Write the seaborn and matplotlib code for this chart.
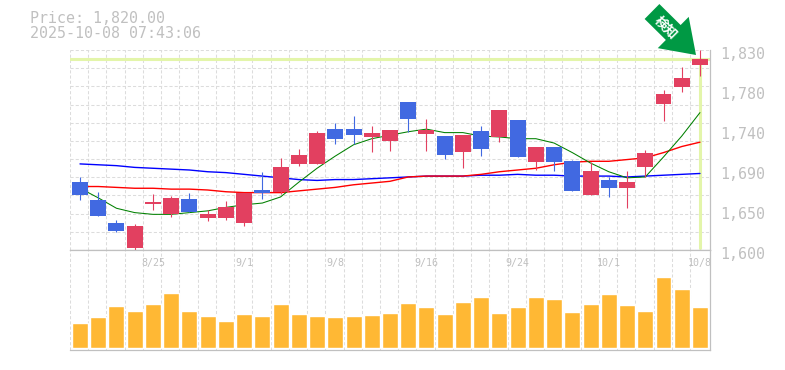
import matplotlib
matplotlib.use("Agg")
import matplotlib.pyplot as plt
from matplotlib.patches import FancyArrow
import seaborn as sns
import pandas as pd

# --- data ---
OPEN = [1678, 1658, 1631, 1602, 1653, 1641, 1659, 1637, 1637, 1631, 1669, 1667, 1699, 1699, 1739, 1739, 1730, 1725,
        1770, 1733, 1731, 1713, 1737, 1730, 1750, 1701, 1718, 1702, 1663, 1680, 1671, 1695, 1768, 1787, 1813]
HIGH = [1684, 1667, 1635, 1630, 1664, 1662, 1666, 1646, 1656, 1666, 1690, 1706, 1716, 1737, 1746, 1754, 1743, 1738,
        1770, 1751, 1731, 1732, 1743, 1761, 1750, 1718, 1718, 1704, 1701, 1684, 1691, 1715, 1784, 1810, 1830]
LOW = [1658, 1639, 1621, 1599, 1646, 1638, 1644, 1633, 1635, 1628, 1659, 1664, 1697, 1699, 1722, 1722, 1713, 1714,
       1736, 1714, 1705, 1694, 1708, 1724, 1707, 1692, 1691, 1668, 1663, 1661, 1648, 1684, 1748, 1782, 1800]
CLOSE = [1663, 1639, 1622, 1628, 1655, 1660, 1644, 1641, 1649, 1666, 1666, 1695, 1709, 1735, 1728, 1732, 1735, 1738,
         1751, 1738, 1709, 1732, 1716, 1761, 1707, 1718, 1701, 1668, 1691, 1671, 1678, 1712, 1779, 1798, 1820]
MA_SHORT = [1671, 1660, 1648, 1643, 1641, 1641, 1643, 1645, 1649, 1652, 1654, 1661, 1678, 1694, 1708, 1721, 1728, 1732,
            1736, 1739, 1735, 1735, 1731, 1730, 1728, 1728, 1723, 1712, 1700, 1690, 1683, 1684, 1707, 1731, 1758]
MA_MID = [1673, 1673, 1672, 1671, 1671, 1670, 1670, 1669, 1667, 1666, 1666, 1666, 1668, 1670, 1672, 1675, 1677, 1679,
          1684, 1685, 1685, 1685, 1687, 1690, 1692, 1694, 1698, 1701, 1702, 1702, 1704, 1706, 1712, 1719, 1724]
MA_LONG = [1699, 1698, 1697, 1695, 1694, 1693, 1692, 1690, 1689, 1687, 1685, 1683, 1681, 1680, 1681, 1681, 1682, 1683,
           1684, 1685, 1685, 1685, 1686, 1686, 1687, 1686, 1686, 1685, 1685, 1685, 1684, 1685, 1686, 1687, 1688]
VOLUME = [25, 31, 42, 37, 44, 55, 37, 32, 27, 34, 32, 44, 34, 32, 31, 32, 33, 35,
          45, 41, 34, 46, 51, 35, 41, 51, 49, 36, 44, 54, 43, 37, 71, 59, 41]
DATE_LABELS = ["8/25", "9/1", "9/8", "9/16", "9/24", "10/1", "10/8"]
DATE_POS = [4, 9, 14, 19, 24, 29, 34]
PRICE_TICKS = [1600, 1646, 1692, 1738, 1784, 1830]
PRICE_LABELS = ["1,600", "1,650", "1,690", "1,740", "1,780", "1,830"]

# --- style ---
UP = "#e24060"
DOWN = "#4169e1"
GRID = "#dcdcdc"
FRAME = "#c0c0c0"
TEXT = "#c0c0c0"
MARK = "#e3f5aa"
ARROW = "#009944"
W, H = 785, 370
X_LEFT = -0.548
X_RIGHT = 34.55
BAR_W = 0.877

sns.set_style("white")
plt.rcParams['font.family'] = ['DejaVu Sans Mono', 'Noto Sans CJK JP']

df = pd.DataFrame({"day": range(len(CLOSE)), "open": OPEN, "high": HIGH, "low": LOW, "close": CLOSE,
                   "short": MA_SHORT, "mid": MA_MID, "long": MA_LONG, "volume": VOLUME})
df["body"] = (df["close"] - df["open"]).abs()
df["bottom"] = df[["open", "close"]].min(axis=1)
df["color"] = [UP if c > o else DOWN for o, c in zip(df["open"], df["close"])]


def panel(fig, top, bottom):
    return fig.add_axes([70 / W, 1 - bottom / H, 640 / W, (bottom - top) / H])


def dress(ax):
    ax.set_xlim(X_LEFT, X_RIGHT)
    ax.set_xticks([i + X_LEFT for i in range(35)])
    ax.tick_params(length=0, labelbottom=False, labelleft=False)
    ax.grid(True, color=GRID, linestyle=(0, (3, 2)), linewidth=0.75)
    ax.set_axisbelow(True)
    ax.set_xlabel("")
    ax.set_ylabel("")
    for side in ["left", "top"]:
        ax.spines[side].set_visible(False)
    for side in ["right", "bottom"]:
        ax.spines[side].set_color(FRAME)
        ax.spines[side].set_linewidth(0.9)


fig = plt.figure(figsize=(W / 100, H / 100), dpi=100)
ax = panel(fig, 50, 250)
vol = panel(fig, 250, 350)

# price panel
ax.set_ylim(1600, 1830)
ax.set_yticks([1600 + 230 * i / 11 for i in range(12)])
dress(ax)
ax.axhline(CLOSE[-1], color=MARK, linewidth=2.2, zorder=1.5)
ax.plot([34, 34], [1600 + 2, CLOSE[-1]], color=MARK, linewidth=2.2, zorder=1.5)

for col, c, lw in [("long", "#0000ff", 1.0), ("mid", "#ff0000", 1.0), ("short", "#008000", 0.75)]:
    sns.lineplot(data=df, x="day", y=col, color=c, linewidth=lw, ax=ax, zorder=2)
ax.set_xlabel("")
ax.set_ylabel("")

ax.vlines(df["day"], df["low"], df["high"], colors=df["color"], linewidth=0.8, zorder=3, clip_on=False)
ax.bar(df["day"], df["body"].clip(lower=1), bottom=df["bottom"], width=BAR_W, color=df["color"], linewidth=0, zorder=4)

# y labels sit a little below their grid value, like the source image
for val, lab in zip(PRICE_TICKS, PRICE_LABELS):
    ax.annotate(lab, xy=(1, val), xycoords=ax.get_yaxis_transform(), xytext=(7.5, -3.2), textcoords="offset points",
                ha="left", va="center", fontsize=10.8, color=TEXT)

# volume panel
sns.barplot(data=df, x="day", y="volume", color="#ffb834", width=BAR_W, saturation=1, native_scale=True, ax=vol, zorder=3)
vol.set_ylim(-2, 98)
dress(vol)
vol.yaxis.grid(False)
vol.spines["top"].set_visible(True)
vol.spines["top"].set_color(FRAME)
vol.spines["top"].set_linewidth(0.9)
for pos, lab in zip(DATE_POS, DATE_LABELS):
    vol.annotate(lab, xy=(pos, 1), xycoords=vol.get_xaxis_transform(), xytext=(0, -9.2), textcoords="offset points",
                 ha="center", va="center", fontsize=7.2, color=TEXT, annotation_clip=False)

# header
fig.text(30 / W, 1 - 18.5 / H, "Price: 1,820.00", fontsize=10.8, color=TEXT, va="center")
fig.text(30 / W, 1 - 33.5 / H, "2025-10-08 07:43:06", fontsize=10.8, color=TEXT, va="center")

# green arrow pointing at the last candle (pixel coordinates of the figure)
fig.add_artist(FancyArrow(652, H - 11.5, 44, -43.5, width=21, head_width=44, head_length=32, length_includes_head=True,
                          transform=None, color=ARROW, linewidth=0, zorder=10))
fig.text(666 / W, 1 - 27.5 / H, "検知", rotation=-45, rotation_mode="anchor", fontsize=9.5, fontweight="bold",
         color="white", family=['Noto Sans CJK JP'], ha="center", va="center", zorder=11)

fig.savefig("out.png", dpi=100)
